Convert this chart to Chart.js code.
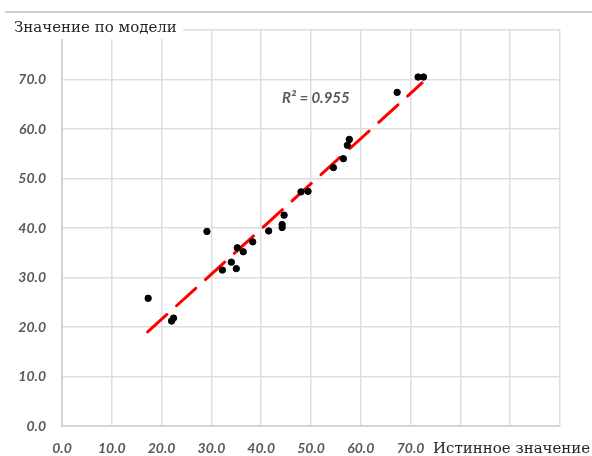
<!DOCTYPE html>
<html>
<head>
<meta charset="utf-8">
<script src="https://cdn.jsdelivr.net/npm/chart.js@4"></script>
<style>
  html, body { margin: 0; padding: 0; background: #fff; }
  #wrap { width: 592px; height: 456px; position: relative; }
</style>
</head>
<body>
<div id="wrap"><canvas id="chart" width="592" height="456"></canvas></div>
<script>
// values
const trueValues  = [17.3, 22.0, 22.4, 29.1, 32.2, 34.0, 35.0, 35.2, 36.4, 38.3, 41.5, 44.2, 44.2, 44.6, 48.0, 49.4, 54.5, 56.5, 57.3, 57.7, 67.3, 71.5, 72.6];
const modelValues = [25.8, 21.2, 21.8, 39.3, 31.5, 33.1, 31.8, 36.0, 35.2, 37.2, 39.4, 40.7, 40.1, 42.6, 47.3, 47.4, 52.2, 54.0, 56.7, 57.9, 67.4, 70.5, 70.5];
// trend line ends as drawn
const trendX = [17.2, 72.3];
const trendY = [19.0, 69.3];
const rSquaredLabel = 'R² = 0.955';
const xTitle = 'Истинное значение';
const yTitle = 'Значение по модели';
const maxLabelled = 70;

const tickFont = { family: 'Lato', size: 14, style: 'italic', weight: 'bold' };
const gridColor = '#dedede';

// --- titles, R² label and the frame line ---
const decorations = {
    id: 'decorations',
    afterDraw(chart) {
        const ctx = chart.ctx;
        const xs = chart.scales.x, ys = chart.scales.y;
        ctx.save();

        // thin grey line across the top
        ctx.strokeStyle = '#cfcfcf';
        ctx.lineWidth = 2;
        ctx.beginPath();
        ctx.moveTo(5, 12);
        ctx.lineTo(592, 12);
        ctx.stroke();

        // y title sits on a white box over the grid
        ctx.fillStyle = '#fff';
        ctx.fillRect(8, 17, 175, 22);
        ctx.font = '15px "DejaVu Serif"';
        ctx.fillStyle = '#262626';
        ctx.textBaseline = 'middle';
        ctx.textAlign = 'left';
        ctx.fillText(yTitle, 14, 28);

        // x title next to the last labelled tick
        ctx.fillText(xTitle, 433, 449);

        // R² label
        ctx.font = 'italic bold 15px Lato';
        ctx.fillStyle = '#595959';
        ctx.fillText(rSquaredLabel, xs.getPixelForValue(44.2), ys.getPixelForValue(66.3));
        ctx.restore();
    }
};

const ctx = document.getElementById('chart').getContext('2d');
new Chart(ctx, {
    type: 'scatter',
    data: {
        datasets: [{
            label: 'points',
            data: trueValues.map((v, i) => ({ x: v, y: modelValues[i] })),
            backgroundColor: '#000',
            borderColor: '#000',
            pointRadius: 3.2,
            pointHoverRadius: 3.2
        }, {
            label: 'trend',
            type: 'line',
            data: trendX.map((v, i) => ({ x: v, y: trendY[i] })),
            borderColor: '#ff0000',
            borderWidth: 3,
            borderDash: [26, 13],
            borderCapStyle: 'round',
            pointRadius: 0,
            fill: false
        }]
    },
    options: {
        responsive: false,
        animation: false,
        layout: { padding: { top: 30, right: 32, left: 0, bottom: 0 } },
        plugins: {
            legend: { display: false },
            tooltip: { enabled: false }
        },
        scales: {
            x: {
                type: 'linear',
                min: 0,
                max: 100,
                ticks: {
                    stepSize: 10,
                    padding: 14,
                    maxRotation: 0,
                    autoSkip: false,
                    color: '#595959',
                    font: tickFont,
                    callback: v => v <= maxLabelled ? v.toFixed(1) : ''
                },
                grid: { color: gridColor, lineWidth: 1.5, drawTicks: false },
                border: { color: '#d4d4d4', width: 2 },
                afterFit(scale) { scale.height = 30; scale.paddingLeft = 0; scale.paddingRight = 0; }
            },
            y: {
                type: 'linear',
                min: 0,
                max: 80,
                ticks: {
                    stepSize: 10,
                    padding: 16,
                    color: '#595959',
                    font: tickFont,
                    callback: v => v <= maxLabelled ? v.toFixed(1) : ''
                },
                grid: { color: gridColor, lineWidth: 1.5, drawTicks: false },
                border: { color: '#d4d4d4', width: 2 },
                afterFit(scale) { scale.width = 62; }
            }
        }
    },
    plugins: [decorations]
});
</script>
</body>
</html>
